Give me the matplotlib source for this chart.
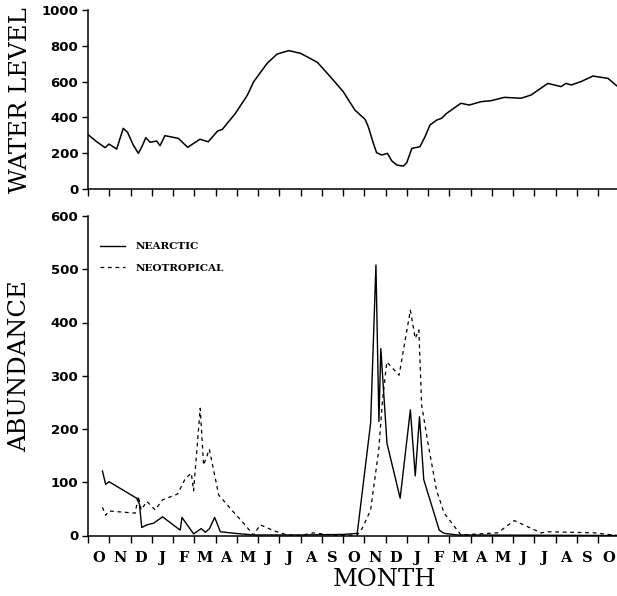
import matplotlib
matplotlib.use("Agg")
import matplotlib.pyplot as plt
from matplotlib.lines import Line2D

# ---------------- data ----------------
month_labels = ["O", "N", "D", "J", "F", "M", "A", "M", "J", "J", "A", "S",
                "O", "N", "D", "J", "F", "M", "A", "M", "J", "J", "A", "S", "O"]

# water level (x in months from start of first October)
wl_month = [0.02, 0.4, 0.8, 0.99, 1.35, 1.5, 1.66, 1.86, 2.13, 2.37, 2.55, 2.72,
            2.92, 3.23, 3.39, 3.62, 4.25, 4.69, 5.27, 5.66, 6.1, 6.32, 6.92,
            7.49, 7.8, 8.43, 8.9, 9.45, 10.0, 10.79, 11.39, 12.01, 12.56, 13.04,
            13.19, 13.43, 13.58, 13.82, 14.09, 14.29, 14.53, 14.84, 15.0, 15.24,
            15.62, 15.86, 16.09, 16.41, 16.64, 16.88, 17.55, 17.94, 18.5, 18.96,
            19.59, 20.38, 20.85, 21.64, 22.26, 22.5, 22.74, 23.2, 23.76, 24.47, 24.9]
wl_value = [302, 265, 231, 251, 223, 280, 339, 317, 246, 199, 240, 287,
            261, 268, 242, 298, 283, 233, 278, 264, 324, 333, 420,
            522, 600, 702, 754, 773, 758, 708, 629, 544, 441, 389,
            348, 255, 203, 190, 199, 158, 134, 128, 147, 227,
            236, 292, 357, 385, 395, 423, 479, 469, 488, 493,
            512, 507, 525, 590, 572, 590, 581, 600, 631, 618, 575]

nearctic_month = [0.68, 0.83, 0.99, 2.29, 2.42, 2.53, 2.77, 3.08, 3.51, 4.34, 4.42,
                  4.97, 5.33, 5.52, 5.72, 5.96, 6.23, 6.93, 7.78, 10.0, 12.0, 12.67,
                  13.3, 13.55, 13.69, 13.78, 14.07, 14.69, 15.17, 15.4, 15.6, 15.8,
                  16.53, 16.76, 17.4, 24.9]
nearctic_value = [121, 96, 101, 70, 59, 15, 20, 23, 35, 10, 34,
                  3, 13, 6, 13, 34, 7, 4, 1, 1, 2, 4,
                  211, 508, 214, 351, 173, 70, 236, 112, 223, 105,
                  10, 4, 1, 0]

neotropical_month = [0.68, 0.83, 0.99, 2.22, 2.37, 2.5, 2.77, 3.16, 3.51, 4.22, 4.58,
                     4.86, 4.97, 5.28, 5.44, 5.71, 6.15, 6.76, 7.39, 7.78, 8.11, 8.74,
                     9.37, 10.0, 10.6, 11.6, 12.67, 12.9, 13.3, 13.68, 13.86, 14.06,
                     14.64, 15.17, 15.4, 15.57, 15.7, 16.0, 16.4, 16.76, 17.55, 19.28,
                     20.06, 21.32, 21.64, 23.84, 24.9]
neotropical_value = [53, 38, 46, 42, 74, 48, 64, 48, 67, 78, 107,
                     117, 84, 239, 132, 162, 76, 48, 20, 1, 20, 9,
                     1, 0, 5, 0, 1, 13, 48, 160, 254, 326,
                     301, 423, 370, 386, 245, 173, 85, 42, 1, 5,
                     28, 5, 7, 5, 0]

# ---------------- figure ----------------
W, H = 617, 596
fig = plt.figure(figsize=(W / 100, H / 100), dpi=100)

left = 88 / W
right = 1.0
ax1 = fig.add_axes([left, (H - 189) / H, right - left, (189 - 10) / H])
ax2 = fig.add_axes([left, (H - 535.5) / H, right - left, (535.5 - 216) / H])

num_font = dict(family="DejaVu Sans", weight="bold", size=9.5)
xmax = (W - 88) / 21.25

for ax in (ax1, ax2):
    for s in ("top", "right"):
        ax.spines[s].set_visible(False)
    ax.spines["left"].set_linewidth(1.1)
    ax.spines["bottom"].set_linewidth(1.1)
    ax.set_xlim(0, xmax)
    ax.set_xticks(range(0, 25))
    ax.tick_params(axis="x", which="major", direction="out", length=5, width=1.0,
                   labelbottom=False)
    ax.tick_params(axis="y", direction="out", length=4, width=1.0, pad=3)

# top panel
ax1.plot(wl_month, wl_value, color="black", lw=1.1)
ax1.set_ylim(0, 1000)
ax1.set_yticks(range(0, 1001, 200))
ax1.set_yticklabels([str(v) for v in range(0, 1001, 200)], fontdict=num_font)

# bottom panel
ax2.plot(nearctic_month, nearctic_value, color="black", lw=1.0, label="NEARCTIC")
ax2.plot(neotropical_month, neotropical_value, color="black", lw=0.9,
         linestyle=(0, (3, 3)), label="NEOTROPICAL")
ax2.set_ylim(0, 600)
ax2.set_yticks(range(0, 601, 100))
ax2.set_yticklabels([str(v) for v in range(0, 601, 100)], fontdict=num_font)

ax2.set_xticks([i + 0.5 for i in range(len(month_labels))], minor=True)
ax2.set_xticklabels(month_labels, minor=True, family="DejaVu Serif",
                    weight="bold", size=10.5)
ax2.tick_params(axis="x", which="minor", length=0, pad=11)

handles = [Line2D([], [], color="black", lw=1.0),
           Line2D([], [], color="black", lw=0.9, linestyle=(0, (3, 3)))]
leg = ax2.legend(handles, ["NEARCTIC", "NEOTROPICAL"], loc="upper left",
                 bbox_to_anchor=(0.0227, 0.919), borderaxespad=0, borderpad=0,
                 frameon=False, handlelength=2.4, handletextpad=1.05,
                 labelspacing=1.2,
                 prop=dict(family="DejaVu Serif", weight="bold", size=7.5))

# axis titles
fig.text(21 / W, 1 - 100 / H, "WATER LEVEL", rotation=90, ha="center", va="center",
         family="DejaVu Serif", size=17.5)
fig.text(20 / W, 1 - 366 / H, "ABUNDANCE", rotation=90, ha="center", va="center",
         family="DejaVu Serif", size=17.5)
fig.text(385 / W, 1 - 579 / H, "MONTH", ha="center", va="center",
         family="DejaVu Serif", size=17.5)

fig.savefig("out.png", dpi=100)
